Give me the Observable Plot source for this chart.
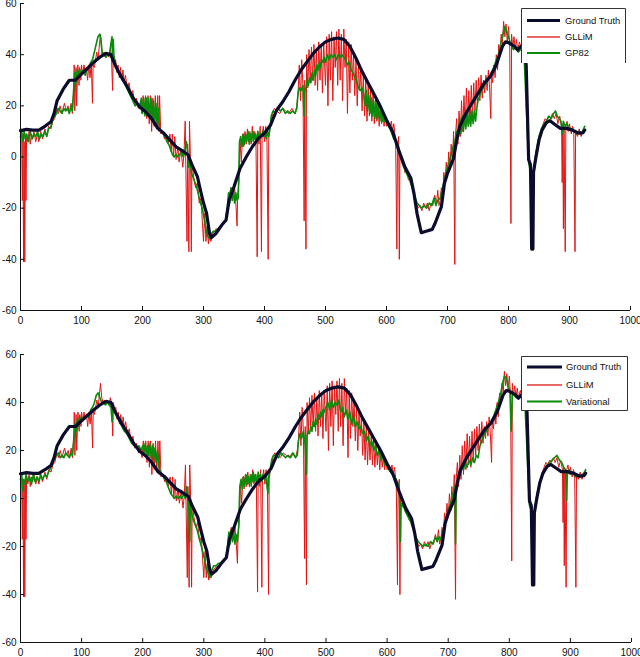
<!DOCTYPE html>
<html><head><meta charset="utf-8">
<script src="https://cdn.jsdelivr.net/npm/d3@7"></script>
<script src="https://cdn.jsdelivr.net/npm/@observablehq/plot@0.6"></script>
<style>
body{margin:0;background:#fff;font-family:"Liberation Sans",Arial,sans-serif;}
#wrap{position:relative;width:640px;height:657px;overflow:hidden;background:#fff}
#wrap svg.plot{display:block}
.legend{position:absolute;}
</style></head><body><div id="wrap"></div>
<script>
const xTicks = [0,100,200,300,400,500,600,700,800,900,1000];
const yTicks = [-60,-40,-20,0,20,40,60];
const namesTop = ["Ground Truth","GLLiM","GP82"];
const namesBottom = ["Ground Truth","GLLiM","Variational"];
const colors = ["#0b0b2e","#e41414","#0a8c0a"];

const groundTruth = [[0,10.3],[10,10.8],[20,10.5],[30,10.5],[40,12],[50,13.8],[55,17],[60,22],[70,26.5],[80,30],[90,30],[100,32.5],[110,34.7],[120,37],[130,39],[140,40.5],[148,40],[155,36],[165,31.4],[175,27.5],[185,23],[195,19.7],[205,17.7],[215,15],[225,11.2],[235,9.3],[245,6.6],[255,4],[265,2.5],[275,0.8],[280,-2.5],[290,-7.7],[295,-13],[300,-18],[305,-22],[310,-30],[313,-31.5],[320,-30],[330,-26.6],[337,-24.6],[342,-16.8],[350,-11.6],[360,-4.4],[370,0],[380,4],[390,7.3],[400,9.3],[410,12.5],[420,18.4],[430,21.6],[440,25.5],[450,30],[460,34],[470,37.3],[480,40.5],[490,43],[500,45],[510,46],[520,46.5],[530,46],[540,43.2],[550,38.6],[560,33.4],[570,28.8],[580,24.3],[590,19.7],[600,14.5],[610,9.9],[620,2.7],[630,-3.8],[640,-8.3],[645,-14.2],[650,-22],[657,-29.6],[665,-29],[675,-28.3],[680,-25.7],[690,-19.4],[695,-10.3],[700,-6.4],[710,-0.5],[715,6.6],[720,11.9],[730,17],[740,21],[750,24.9],[760,28.8],[770,31.4],[780,36],[790,43.2],[795,45],[800,44.7],[810,43.2],[815,41.8],[820,43.2],[826,42],[829,36],[833,-1],[836,-3],[838,-36],[840,-36],[841,-6],[845,0],[850,6.6],[855,10.5],[862,13.4],[868,14.2],[875,12.9],[885,11.2],[895,11.2],[905,10.5],[915,9.3],[922,9.5],[925,10.5]];

const gllim = [[0,9],[2,7],[3,-17],[4,8],[5,-41],[6,6],[7,-41],[8,8],[9,-17],[10,9],[12,6],[14,10],[16,5],[18,9],[20,7],[22,10],[25,6],[28,9],[30,6],[33,10],[36,7],[40,11],[43,8],[46,12],[50,11],[53,14],[56,15],[60,19],[62,17],[65,20],[68,17],[72,21],[75,18],[78,20],[80,17],[83,21],[85,17],[87,25],[88,36],[89,18],[91,35],[92,20],[94,36],[96,28],[97,35],[99,30],[100,36],[102,32],[104,36],[106,33],[108,35],[110,30],[112,36],[114,31],[116,37],[118,21],[119,36],[121,35],[123,38],[125,41],[127,38],[129,43],[131,48],[133,42],[135,40],[137,41],[139,39],[141,41],[143,40],[145,39],[147,42],[149,40],[151,26],[152,40],[154,37],[156,38],[158,33],[160,36],[162,31],[164,35],[166,30],[168,34],[170,29],[172,32],[175,27],[178,29],[181,24],[184,26],[187,21],[190,23],[193,19],[196,21],[199,17],[201,24],[203,18],[205,24],[207,15],[209,24],[211,13],[213,24],[215,10],[217,23],[219,12],[221,24],[223,11],[225,24],[227,10],[228,24],[230,9],[233,10],[236,7],[239,9],[242,5],[245,9],[247,2],[249,9],[251,0],[253,8],[255,-1],[258,4],[260,-2],[263,3],[266,-4],[268,1],[270,14],[271,-3],[273,-33],[274,5],[276,-37],[277,14],[279,-5],[280,-37],[281,-2],[284,-8],[287,-12],[290,-10],[293,-18],[296,-16],[298,-25],[300,-33],[302,-22],[304,-33],[306,-27],[308,-34],[310,-30],[312,-33],[315,-30],[318,-29],[321,-28],[325,-29],[329,-27],[333,-26],[337,-24],[340,-18],[342,-15],[345,-12],[348,-17],[351,-12],[353,-18],[355,-27],[356,-15],[358,-10],[360,6],[362,-2],[364,9],[366,4],[368,10],[370,5],[372,11],[374,6],[376,10],[378,5],[380,12],[382,6],[384,10],[386,6],[388,-39],[389,10],[391,5],[393,12],[395,-37],[396,8],[398,12],[400,6],[402,12],[404,7],[406,-40],[407,8],[409,12],[411,13],[413,17],[416,19],[420,18],[425,17],[430,19],[435,18],[440,17],[445,19],[450,17],[453,20],[455,25],[457,36],[459,22],[461,38],[463,28],[465,-25],[466,30],[468,-36],[469,40],[471,27],[473,42],[475,29],[477,43],[479,30],[481,44],[483,28],[485,42],[487,26],[489,45],[491,30],[493,44],[495,25],[497,45],[500,28],[502,47],[504,20],[506,48],[508,30],[510,49],[512,22],[514,47],[516,35],[518,49],[520,28],[522,50],[524,30],[526,48],[528,22],[530,50],[532,35],[534,46],[536,17],[538,45],[540,25],[542,44],[544,30],[546,40],[548,24],[550,38],[552,20],[554,36],[556,26],[558,34],[560,18],[562,32],[564,16],[566,30],[568,14],[570,28],[572,16],[574,26],[576,14],[578,25],[580,13],[582,23],[584,14],[586,21],[588,12],[590,20],[592,13],[594,18],[596,12],[598,16],[600,12],[602,14],[605,11],[608,14],[610,10],[612,13],[615,6],[617,-36],[618,4],[620,8],[621,-40],[622,2],[624,0],[626,-3],[628,-2],[630,-6],[633,-5],[636,-9],[640,-9],[643,-13],[646,-15],[649,-18],[652,-20],[655,-19],[658,-21],[661,-18],[664,-20],[667,-18],[670,-21],[673,-18],[676,-19],[679,-15],[682,-18],[684,-13],[686,-19],[688,-17],[690,-12],[692,-16],[694,-6],[696,-10],[698,-2],[700,-8],[702,2],[704,-5],[706,5],[708,-2],[710,10],[712,-42],[713,8],[715,15],[717,5],[719,18],[721,8],[723,22],[725,10],[727,24],[729,12],[731,27],[733,14],[735,26],[737,13],[739,28],[741,15],[743,29],[745,18],[747,30],[749,20],[751,31],[753,22],[755,32],[757,23],[759,30],[761,25],[763,32],[765,26],[767,34],[769,27],[771,15],[772,33],[774,29],[776,36],[778,31],[780,40],[782,34],[784,44],[786,40],[788,48],[790,44],[792,53],[794,47],[796,52],[798,45],[800,51],[802,43],[804,-26],[805,48],[807,43],[809,47],[811,42],[813,46],[815,42],[818,45],[821,42],[824,44],[827,43],[830,20],[833,-2],[836,-5],[839,-10],[842,-3],[845,2],[848,5],[851,8],[854,11],[857,13],[860,15],[863,14],[866,16],[869,15],[872,17],[875,15],[878,17],[881,13],[884,16],[887,12],[888,-10],[889,13],[890,-28],[891,12],[893,-37],[894,12],[896,14],[898,10],[900,13],[903,9],[905,12],[907,10],[909,-37],[910,10],[913,8],[916,11],[919,8],[922,10],[925,11]];

const gp82 = [[0,8],[2,10],[4,6],[6,10],[8,7],[10,9],[13,6],[16,10],[19,7],[22,9],[25,8],[28,10],[31,7],[34,9],[37,8],[40,10],[43,8],[46,11],[50,12],[53,15],[56,16],[59,17],[62,19],[65,18],[68,17],[71,19],[74,18],[77,19],[80,17],[83,20],[85,18],[87,26],[89,33],[91,29],[93,34],[95,32],[97,34],[100,33],[103,34],[106,32],[109,34],[112,35],[115,37],[118,38],[121,41],[124,44],[127,47],[130,48],[132,46],[134,40],[137,40],[140,39],[143,40],[146,40],[148,44],[150,47],[151,38],[152,46],[153,40],[155,37],[158,35],[161,33],[164,32],[168,30],[172,28],[176,26],[180,24],[184,22],[188,20],[192,21],[195,19],[198,23],[200,17],[202,23],[204,16],[206,23],[208,16],[210,23],[212,15],[214,23],[216,14],[218,22],[220,13],[222,21],[224,12],[226,19],[228,11],[231,10],[234,9],[237,8],[240,6],[243,5],[246,3],[249,1],[252,0],[255,1],[258,0],[261,1],[264,2],[267,0],[270,3],[272,6],[274,2],[276,-4],[278,-1],[280,-6],[283,-8],[286,-10],[289,-12],[292,-15],[295,-18],[298,-20],[301,-24],[304,-28],[307,-31],[310,-32],[313,-30],[316,-29],[320,-29],[324,-28],[328,-27],[332,-26],[336,-25],[339,-20],[341,-14],[343,-18],[345,-12],[347,-17],[349,-13],[351,-18],[353,-14],[355,-17],[357,-16],[359,6],[361,8],[363,4],[365,9],[367,5],[369,9],[371,6],[373,10],[375,5],[377,9],[379,6],[381,10],[383,7],[385,9],[387,6],[389,10],[391,7],[393,9],[395,8],[397,10],[399,8],[401,9],[403,7],[405,10],[407,8],[409,11],[411,16],[414,18],[418,17],[422,19],[426,18],[430,19],[434,17],[438,18],[442,17],[446,18],[450,17],[453,19],[455,25],[457,27],[460,26],[463,28],[465,16],[466,26],[468,27],[470,30],[472,28],[474,31],[476,29],[478,33],[480,30],[482,34],[484,32],[486,36],[488,34],[490,37],[492,35],[494,38],[496,37],[498,39],[500,37],[503,40],[506,38],[509,40],[512,39],[515,40],[518,38],[521,40],[524,39],[527,40],[530,39],[533,38],[536,36],[539,37],[542,34],[545,33],[548,31],[551,30],[554,27],[557,26],[560,27],[563,24],[565,20],[567,26],[569,18],[571,24],[573,17],[575,23],[577,16],[579,22],[581,15],[583,21],[585,15],[587,20],[589,14],[591,19],[593,14],[595,17],[597,14],[600,14],[603,12],[606,11],[609,9],[612,7],[615,7],[618,5],[621,2],[624,-1],[627,-3],[630,-5],[634,-7],[638,-9],[642,-12],[646,-15],[650,-18],[654,-19],[658,-20],[662,-19],[666,-20],[670,-18],[674,-19],[678,-16],[681,-19],[684,-17],[688,-16],[692,-12],[696,-8],[700,-4],[704,-1],[708,3],[712,6],[715,10],[718,8],[720,15],[722,9],[724,16],[726,10],[728,17],[730,11],[732,17],[734,12],[736,18],[738,12],[740,18],[742,13],[744,18],[746,14],[748,19],[750,22],[753,24],[756,26],[760,28],[764,29],[768,31],[772,33],[776,35],[780,38],[784,40],[788,45],[791,48],[794,51],[797,49],[800,47],[804,44],[808,42],[812,43],[816,41],[820,42],[825,43],[833,-2],[836,-6],[839,-10],[842,-4],[846,3],[850,8],[854,11],[858,13],[862,14],[866,16],[870,15],[874,17],[877,18],[880,16],[883,15],[886,14],[888,9],[890,14],[893,12],[896,13],[900,11],[904,11],[908,10],[912,9],[916,10],[920,9],[923,11],[925,12]];

const variational = [[0,8],[2,10],[4,3],[5,8],[7,6],[9,10],[12,7],[15,9],[18,6],[21,10],[24,7],[27,9],[30,7],[33,10],[36,8],[40,10],[43,9],[46,11],[50,13],[53,15],[56,17],[59,18],[62,19],[65,17],[68,18],[71,17],[74,19],[77,18],[80,17],[83,19],[85,18],[87,24],[89,31],[91,28],[93,33],[95,30],[97,34],[100,32],[103,33],[106,34],[109,35],[112,34],[115,37],[118,38],[121,40],[124,43],[127,44],[130,42],[133,40],[136,40],[139,39],[142,40],[145,39],[148,38],[150,32],[151,38],[153,37],[156,36],[159,34],[162,32],[166,30],[170,28],[174,27],[178,25],[182,23],[186,22],[190,21],[194,22],[197,20],[200,22],[202,19],[204,23],[206,18],[208,22],[210,18],[212,23],[214,17],[216,22],[218,16],[220,21],[222,15],[224,20],[226,14],[228,12],[231,10],[234,9],[237,8],[240,6],[243,4],[246,2],[249,1],[252,0],[255,1],[258,0],[261,1],[264,0],[267,2],[270,0],[272,5],[274,1],[276,-8],[277,-18],[278,-3],[280,-6],[283,-9],[286,-11],[289,-13],[292,-16],[295,-19],[298,-22],[301,-25],[304,-29],[307,-31],[310,-33],[313,-30],[316,-28],[320,-28],[324,-27],[328,-27],[332,-26],[336,-25],[339,-20],[341,-14],[343,-19],[345,-13],[347,-18],[349,-14],[351,-19],[353,-15],[355,-18],[357,-12],[359,5],[361,8],[363,4],[365,9],[367,5],[369,10],[371,6],[373,9],[375,5],[377,10],[379,7],[381,11],[383,7],[385,10],[387,6],[389,11],[391,8],[393,10],[395,7],[397,10],[399,8],[401,10],[403,6],[405,2],[406,9],[408,11],[411,16],[414,18],[418,18],[422,17],[426,19],[430,18],[434,17],[438,18],[442,17],[446,19],[450,17],[453,18],[455,24],[457,27],[460,25],[463,28],[466,22],[468,10],[469,26],[471,28],[473,27],[475,30],[477,28],[479,32],[481,30],[483,33],[485,31],[487,35],[489,33],[491,36],[493,34],[495,37],[497,36],[500,38],[503,40],[506,37],[509,41],[512,38],[515,40],[518,39],[521,41],[524,36],[527,38],[530,34],[533,37],[536,33],[539,36],[542,31],[545,34],[548,30],[551,32],[554,29],[557,30],[560,27],[563,28],[566,24],[569,26],[572,22],[575,24],[578,20],[581,22],[584,18],[587,20],[590,16],[593,18],[596,14],[600,14],[603,12],[606,11],[609,10],[612,9],[615,8],[618,6],[620,3],[622,-18],[623,-2],[625,-3],[628,-4],[631,-6],[635,-8],[639,-10],[643,-13],[647,-16],[651,-18],[655,-19],[659,-20],[663,-19],[667,-20],[671,-18],[675,-19],[679,-16],[682,-18],[685,-16],[688,-17],[692,-13],[696,-9],[700,-5],[704,-2],[708,2],[711,5],[712,-19],[713,4],[716,9],[719,11],[722,13],[725,12],[728,15],[731,13],[734,16],[737,14],[740,17],[743,15],[746,18],[749,17],[752,22],[755,24],[758,26],[762,28],[766,30],[770,32],[774,34],[778,37],[782,40],[786,44],[789,48],[792,51],[795,50],[798,47],[801,45],[803,28],[805,44],[808,43],[812,42],[816,42],[820,43],[825,43],[833,-3],[836,-5],[839,-9],[842,-4],[846,2],[850,7],[854,10],[858,12],[862,14],[866,15],[870,16],[874,17],[878,18],[882,16],[886,15],[889,13],[892,12],[894,-1],[895,11],[898,12],[901,10],[904,11],[908,9],[912,10],[916,9],[920,10],[923,11],[925,12]];

const wrap = document.getElementById("wrap");

function panel(green, cfg) {
  const plotH = cfg.height - cfg.marginTop - cfg.marginBottom;
  const plotW = 640 - cfg.marginLeft - cfg.marginRight;
  const tickLenY = 4 * 120 / plotH;
  const tickLenX = 4 * 1000 / plotW;
  const chart = Plot.plot({
    width: 640, height: cfg.height,
    marginTop: cfg.marginTop, marginBottom: cfg.marginBottom,
    marginLeft: cfg.marginLeft, marginRight: cfg.marginRight,
    x: {domain: [0, 1000]},
    y: {domain: [-60, 60]},
    style: {fontFamily: '"Liberation Sans", Arial, sans-serif', fontSize: "10px", background: "white", color: "#111"},
    marks: [
      Plot.line(gllim, {x: d => d[0], y: d => d[1], stroke: colors[1], strokeWidth: 1}),
      Plot.line(green, {x: d => d[0], y: d => d[1], stroke: colors[2], strokeWidth: 1.6}),
      Plot.line(groundTruth, {x: d => d[0], y: d => d[1], stroke: colors[0], strokeWidth: 3.2, strokeLinejoin: "round"}),
      Plot.ruleX(xTicks, {x: d => d, y1: -60, y2: -60 + tickLenY, stroke: "#111", strokeWidth: 1}),
      Plot.ruleY(yTicks, {y: d => d, x1: 0, x2: tickLenX, stroke: "#111", strokeWidth: 1}),
      Plot.ruleX([0], {stroke: "#111", strokeWidth: 1}),
      Plot.ruleY([-60], {stroke: "#111", strokeWidth: 1}),
      Plot.axisX(xTicks, {tickSize: 0, tickPadding: 6, fontSize: 10, tickFormat: d => String(d)}),
      Plot.axisY(yTicks, {tickSize: 0, tickPadding: 4, fontSize: 10, tickFormat: d => String(d)})
    ]
  });
  chart.classList.add("plot");
  wrap.appendChild(chart);
}

panel(gp82, {height: 330, marginTop: 3, marginBottom: 20, marginLeft: 20, marginRight: 10});
panel(variational, {height: 327, marginTop: 24, marginBottom: 15, marginLeft: 20, marginRight: 9});

function legend(names, cfg) {
  const ns = "http://www.w3.org/2000/svg";
  const svg = document.createElementNS(ns, "svg");
  svg.setAttribute("class", "legend");
  svg.setAttribute("width", cfg.w);
  svg.setAttribute("height", cfg.h);
  svg.style.left = cfg.left + "px";
  svg.style.top = cfg.top + "px";
  const rect = document.createElementNS(ns, "rect");
  rect.setAttribute("x", 0); rect.setAttribute("y", 0);
  rect.setAttribute("width", cfg.w); rect.setAttribute("height", cfg.h);
  rect.setAttribute("fill", "white");
  svg.appendChild(rect);
  const border = document.createElementNS(ns, "path");
  const w = cfg.w - 0.5, h = cfg.h - 0.5;
  border.setAttribute("d", cfg.openBottom ? `M0.5,${cfg.h}V0.5H${w}V${cfg.h}` : `M0.5,0.5H${w}V${h}H0.5Z`);
  border.setAttribute("fill", "none");
  border.setAttribute("stroke", "#333");
  svg.appendChild(border);
  const widths = [3, 2, 2];
  const lineColors = [colors[0], "#e86868", colors[2]];
  names.forEach((name, i) => {
    const y = cfg.rows[i];
    const ln = document.createElementNS(ns, "line");
    ln.setAttribute("x1", 6); ln.setAttribute("x2", cfg.lineEnd);
    ln.setAttribute("y1", y); ln.setAttribute("y2", y);
    ln.setAttribute("stroke", lineColors[i]);
    ln.setAttribute("stroke-width", widths[i]);
    svg.appendChild(ln);
    const t = document.createElementNS(ns, "text");
    t.setAttribute("x", cfg.textX); t.setAttribute("y", y);
    t.setAttribute("dy", "0.35em");
    t.setAttribute("font-size", cfg.fontSize);
    t.setAttribute("font-family", '"Liberation Sans", Arial, sans-serif');
    t.setAttribute("fill", "#111");
    t.textContent = name;
    svg.appendChild(t);
  });
  wrap.appendChild(svg);
}

legend(namesTop, {left: 521, top: 8, w: 105, h: 55, openBottom: true, rows: [12.5, 29, 45], lineEnd: 39, textX: 44, fontSize: 9.4});
legend(namesBottom, {left: 521, top: 356, w: 107, h: 55, openBottom: false, rows: [11, 29, 45.5], lineEnd: 41, textX: 45, fontSize: 9.4});
</script>
</body></html>
